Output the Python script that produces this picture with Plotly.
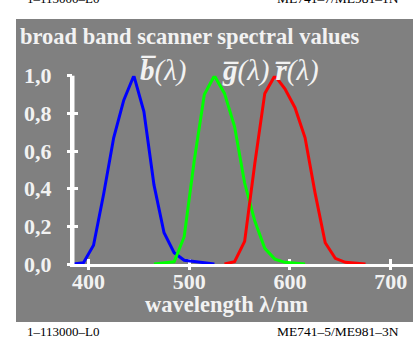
import plotly.graph_objects as go

# ---- data ----
blue_wl = [385, 395, 405, 415, 425, 435, 445, 455, 465, 475, 485, 495, 525]
blue_val = [0.0, 0.007, 0.10, 0.37, 0.67, 0.87, 1.0, 0.81, 0.42, 0.166, 0.06, 0.02, 0.0]

green_wl = [465, 485, 495, 505, 515, 525, 535, 545, 555, 565, 575, 585, 595, 615]
green_val = [0.0, 0.012, 0.145, 0.55, 0.90, 1.0, 0.906, 0.73, 0.43, 0.23, 0.083, 0.026, 0.009, 0.0]

red_wl = [535, 545, 555, 565, 575, 585, 595, 605, 615, 625, 635, 645, 655, 675]
red_val = [0.0, 0.012, 0.12, 0.53, 0.906, 1.0, 0.93, 0.83, 0.67, 0.375, 0.113, 0.03, 0.009, 0.0]

x_ticks = [400, 500, 600, 700]
y_ticks = [0.0, 0.2, 0.4, 0.6, 0.8, 1.0]

title_text = "broad band scanner spectral values"
x_title = "wavelength λ/nm"
labels = ["<b><i>b\u0305</i></b><i>(λ)</i>", "<b><i>g\u0305</i></b><i>(λ)</i>", "<b><i>r\u0305</i></b><i>(λ)</i>"]
footer_left = "1\u2013113000\u2013L0"
footer_right = "ME741\u20135/ME981\u20133N"
header_right = "ME741\u20137/ME981\u20131N"

W, H = 413, 340
SERIF = "Liberation Serif"
TXT = "#f2f2f2"

fig = go.Figure()
fig.add_trace(go.Scatter(x=blue_wl, y=blue_val, mode="lines",
                         line=dict(color="#0000ff", width=3), showlegend=False))
fig.add_trace(go.Scatter(x=green_wl, y=green_val, mode="lines",
                         line=dict(color="#00ff00", width=3), showlegend=False))
fig.add_trace(go.Scatter(x=red_wl, y=red_val, mode="lines",
                         line=dict(color="#ff0000", width=3), showlegend=False))
# invisible trace for the overlay (outside ticks) axes
fig.add_trace(go.Scatter(x=[400], y=[0], xaxis="x2", yaxis="y2", mode="markers",
                         marker=dict(opacity=0), showlegend=False, hoverinfo="skip"))

px_per_nm = (390.7 - 88.5) / 300.0
x_left = 400 - (88.5 - 73) / px_per_nm
x_right = 400 + (W - 88.5) / px_per_nm
xdom = [73 / W, 1.0]
ydom = [(H - 264) / H, (H - 75.7) / H]

common_x = dict(domain=xdom, range=[x_left, x_right], tickvals=x_ticks,
                showgrid=False, zeroline=False, ticklen=5, tickwidth=3,
                tickcolor="white")
common_y = dict(domain=ydom, range=[0, 1.0], tickvals=y_ticks,
                showgrid=False, zeroline=False, ticklen=5, tickwidth=3,
                tickcolor="white")

fig.update_layout(
    width=W, height=H,
    margin=dict(l=0, r=0, t=0, b=0),
    paper_bgcolor="white", plot_bgcolor="rgba(0,0,0,0)",
    separators=",.",
    xaxis=dict(**common_x, ticks="inside", showline=True, linecolor="white",
               linewidth=3, layer="below traces",
               tickfont=dict(family=SERIF, size=22, color=TXT, weight="bold"),
               ticklabelstandoff=-4, automargin=False),
    yaxis=dict(**common_y, ticks="inside", showline=True, linecolor="white",
               linewidth=3, layer="above traces", tickformat=".1f",
               tickfont=dict(family=SERIF, size=22, color=TXT, weight="bold"),
               ticklabelstandoff=14, automargin=False),
    xaxis2=dict(**common_x, ticks="outside", overlaying="x", matches="x",
                anchor="y2", showticklabels=False, showline=False),
    yaxis2=dict(**common_y, ticks="outside", overlaying="y", matches="y",
                anchor="x2", showticklabels=False, showline=False),
)

fig.add_shape(type="rect", xref="paper", yref="paper",
              x0=16 / W, x1=1.0, y0=(H - 322) / H, y1=(H - 19) / H,
              fillcolor="#808080", line=dict(width=0), layer="below")
# vertical axis line along the left edge of the plot domain
fig.add_shape(type="line", xref="x domain", yref="y domain",
              x0=0, x1=0, y0=0, y1=1,
              line=dict(color="white", width=3), layer="above")

def ann(text, x, y, size, color, xanchor="left", yanchor="bottom", bold=False):
    fig.add_annotation(text=text, x=x / W, y=(H - y) / H, xref="paper", yref="paper",
                       showarrow=False, xanchor=xanchor, yanchor=yanchor,
                       font=dict(family=SERIF, size=size, color=color,
                                 weight="bold" if bold else "normal"),
                       borderpad=0)

ann(title_text, 19, 50, 22.5, TXT, bold=True)
ann(x_title, 226, 318, 22.5, TXT, xanchor="center", bold=True)
ann(labels[0], 139, 88, 29, TXT)
ann(labels[1], 221, 88, 29, TXT)
ann(labels[2], 274, 88, 29, TXT)
ann(footer_left, 26, 340, 13, "black")
ann(footer_right, 400, 340, 13.5, "black", xanchor="right")
ann(footer_left, 26, 7, 13, "black")
ann(header_right, 400, 7, 13.5, "black", xanchor="right")

fig.write_html("out.html", config={"displayModeBar": False},
               post_script="document.body.style.margin='0';document.body.style.overflow='hidden';")
